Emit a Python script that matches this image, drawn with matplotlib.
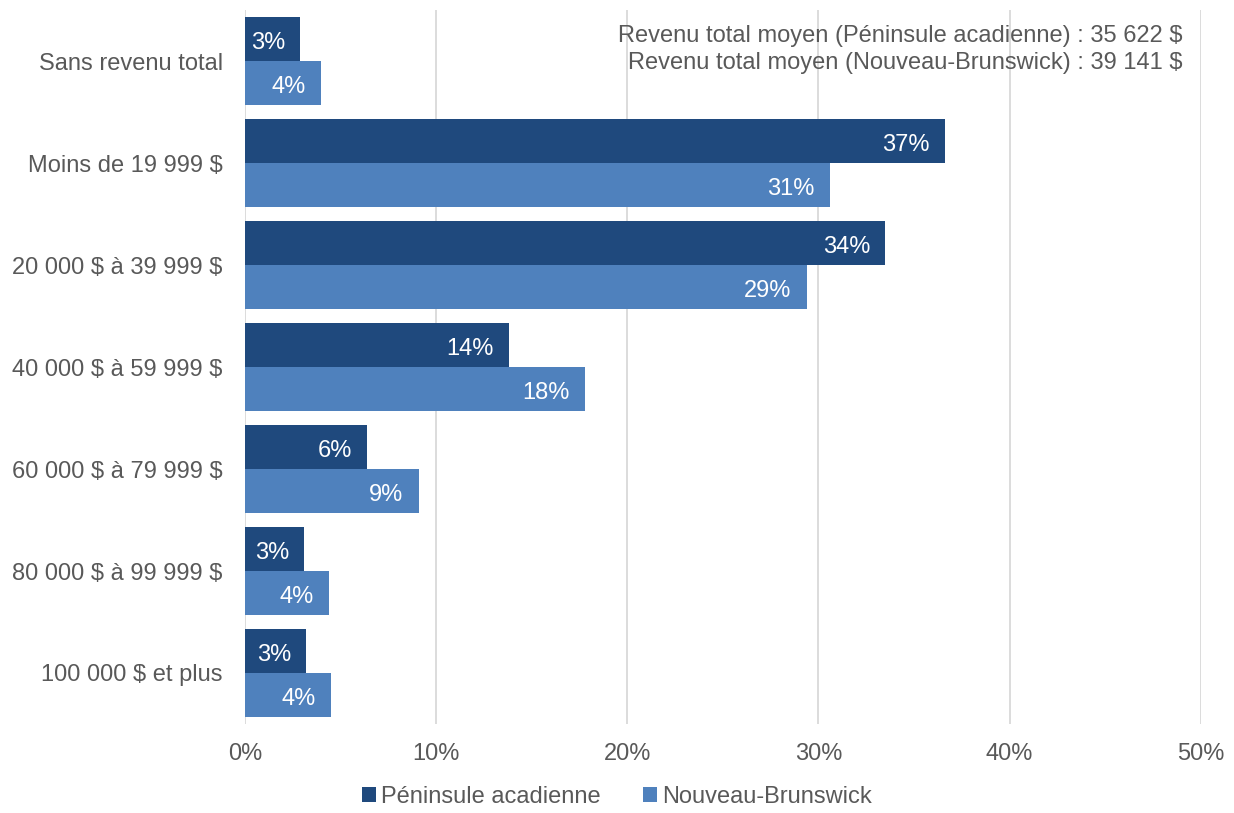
import matplotlib.pyplot as plt
import numpy as np

# ------------------ DATA ------------------
categories = ["Sans revenu total", "Moins de 19 999 $", "20 000 $ à 39 999 $",
              "40 000 $ à 59 999 $", "60 000 $ à 79 999 $", "80 000 $ à 99 999 $",
              "100 000 $ et plus"]
peninsule = [2.9, 36.6, 33.5, 13.8, 6.4, 3.1, 3.2]
nb = [4.0, 30.6, 29.4, 17.8, 9.1, 4.4, 4.5]
peninsule_labels = ["3%", "37%", "34%", "14%", "6%", "3%", "3%"]
nb_labels = ["4%", "31%", "29%", "18%", "9%", "4%", "4%"]
series_names = ["Péninsule acadienne", "Nouveau-Brunswick"]
note = ("Revenu total moyen (Péninsule acadienne) : 35 622 $\n"
        "Revenu total moyen (Nouveau-Brunswick) : 39 141 $")

DARK = "#1f497d"
LIGHT = "#4f81bd"
GRAY = "#595959"
GRID = "#d9d9d9"

plt.rcParams['font.family'] = ['Liberation Sans', 'DejaVu Sans']
plt.rcParams['text.parse_math'] = False
FS = 17

fig = plt.figure(figsize=(12.34, 8.13), dpi=100)
ax = fig.add_axes([0.1985, 0.1095, 0.7745, 0.878])

y = np.arange(len(categories))
h = 0.432
b1 = ax.barh(y - h / 2, peninsule, height=h, color=DARK, label=series_names[0], zorder=3)
b2 = ax.barh(y + h / 2, nb, height=h, color=LIGHT, label=series_names[1], zorder=3)

# white value labels just inside the bar end
for bars, labels in ((b1, peninsule_labels), (b2, nb_labels)):
    for bar, lab in zip(bars, labels):
        ax.annotate(lab, (bar.get_width(), bar.get_y() + bar.get_height() / 2),
                    xytext=(-11, -1), textcoords='offset points',
                    ha='right', va='center_baseline', color='white', fontsize=FS, zorder=4)

ax.set_ylim(len(categories) - 0.5, -0.5)
ax.set_xlim(0, 50)
ax.set_yticks(y)
ax.set_yticklabels(categories)
ax.set_xticks(range(0, 51, 10))
ax.set_xticklabels([f"{v}%" for v in range(0, 51, 10)])
ax.tick_params(axis='both', length=0, labelsize=FS, labelcolor=GRAY)
ax.tick_params(axis='x', pad=14)
ax.tick_params(axis='y', pad=16)
ax.grid(axis='x', color=GRID, linewidth=1.3, zorder=0)
for s in ax.spines.values():
    s.set_visible(False)

fig.text(0.958, 0.939, note, ha='right', va='center', fontsize=FS,
         color=GRAY, linespacing=1.3)

fig.legend(loc='lower center', bbox_to_anchor=(0.5, -0.02), ncol=2, frameon=False,
           fontsize=FS, labelcolor=GRAY, handlelength=0.6, handleheight=0.6,
           handletextpad=0.2, columnspacing=1.8)

fig.savefig("out.png", dpi=100)
